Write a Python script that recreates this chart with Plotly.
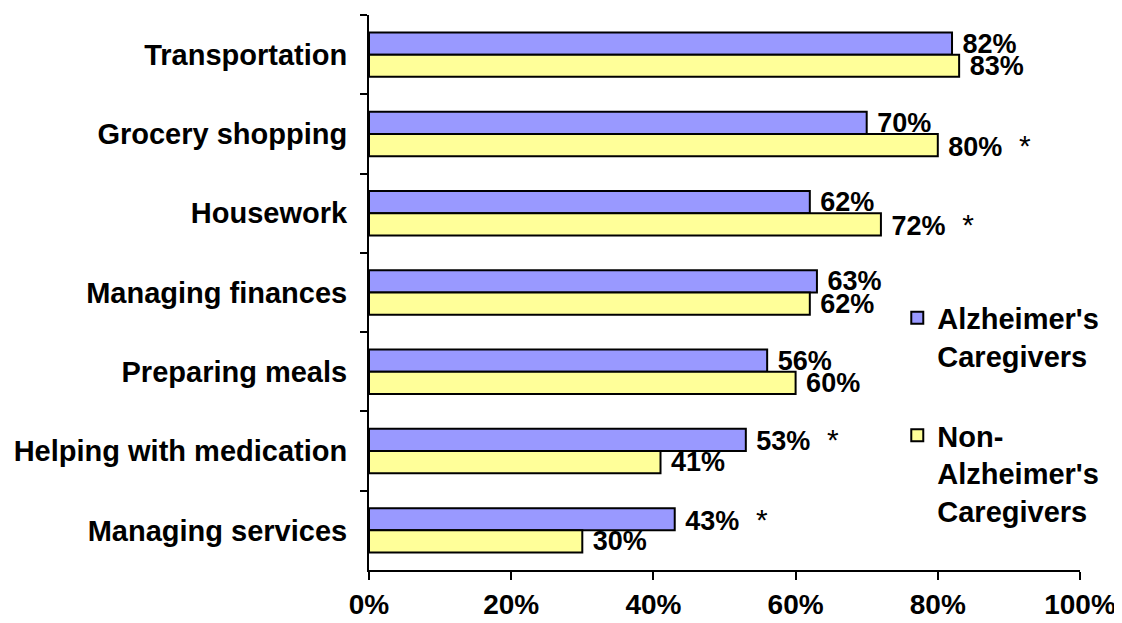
import plotly.graph_objects as go

categories = ["Transportation", "Grocery shopping", "Housework", "Managing finances",
              "Preparing meals", "Helping with medication", "Managing services"]
alz = [82, 70, 62, 63, 56, 53, 43]
non_alz = [83, 80, 72, 62, 60, 41, 30]
alz_star = [False, False, False, False, False, True, True]
non_star = [False, True, True, False, False, False, False]
tick_vals = [0, 20, 40, 60, 80, 100]
tick_text = ["0%", "20%", "40%", "60%", "80%", "100%"]

FONT = "Liberation Sans, Arial, sans-serif"
STAR = "<span style='font-weight:normal;font-size:30px'>  *</span>"

def labels(vals, stars):
    return ["\u00a0" + f"{v}%" + (STAR if s else "") for v, s in zip(vals, stars)]

fig = go.Figure()
fig.add_trace(go.Bar(
    y=categories, x=alz, orientation="h", name="Alzheimer's<br>Caregivers",
    legendgroup="a",
    marker=dict(color="#9999FF", line=dict(color="black", width=2)),
    text=labels(alz, alz_star), textposition="outside", constraintext="none",
    textfont=dict(family=FONT, size=27, color="black", weight="bold"),
    cliponaxis=False,
))
fig.add_trace(go.Bar(
    y=categories, x=non_alz, orientation="h", name="Non-<br>Alzheimer's<br>Caregivers",
    legendgroup="b",
    marker=dict(color="#FFFF99", line=dict(color="black", width=2)),
    text=labels(non_alz, non_star), textposition="outside", constraintext="none",
    textfont=dict(family=FONT, size=27, color="black", weight="bold"),
    cliponaxis=False,
))

fig.update_layout(
    width=1114, height=615,
    margin=dict(l=361, r=42, t=7, b=53, autoexpand=False),
    paper_bgcolor="white", plot_bgcolor="white",
    barmode="group", bargap=0.44, bargroupgap=0,
    font=dict(family=FONT, size=27, color="black"),
    showlegend=True,
    legend=dict(
        x=0.743, y=0.5, xanchor="left", yanchor="top", valign="top",
        traceorder="grouped", tracegroupgap=39,
        font=dict(family=FONT, size=29, color="black", weight="bold"),
        bgcolor="rgba(0,0,0,0)", itemwidth=30,
    ),
    xaxis=dict(
        range=[0, 100], tickvals=tick_vals, ticktext=tick_text,
        showgrid=False, zeroline=False, automargin=False,
        showline=True, linecolor="black", linewidth=2,
        ticks="outside", ticklen=8, tickwidth=2, tickcolor="black",
        tickfont=dict(family=FONT, size=28, color="black", weight="bold"),
    ),
    yaxis=dict(
        autorange="reversed", showgrid=False, zeroline=False, automargin=False,
        showline=True, linecolor="black", linewidth=2,
        ticks="outside", ticklen=7, tickwidth=2, tickcolor="black",
        tickson="boundaries", ticklabelstandoff=14,
        tickfont=dict(family=FONT, size=29, color="black", weight="bold"),
    ),
)

fig.write_html("out.html")
